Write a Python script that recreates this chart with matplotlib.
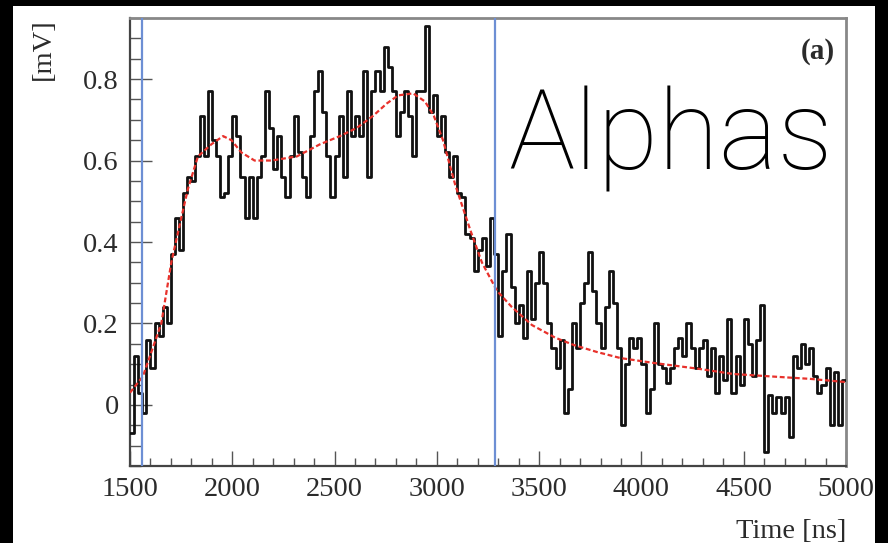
import numpy as np
import matplotlib
matplotlib.use("Agg")
import matplotlib.pyplot as plt
from matplotlib.patches import Rectangle
from matplotlib.ticker import MultipleLocator

# Sampled waveform (20 ns bins starting at 1500 ns), amplitude in mV
t_start = 1500
t_step = 20
signal_mv = [
    -0.07, 0.12, 0.03, -0.02, 0.16, 0.09, 0.20, 0.17, 0.24, 0.20,
    0.37, 0.46, 0.38, 0.52, 0.56, 0.55, 0.61, 0.71, 0.61, 0.77,
    0.65, 0.61, 0.51, 0.52, 0.61, 0.71, 0.66, 0.56, 0.46, 0.56,
    0.46, 0.56, 0.61, 0.77, 0.68, 0.58, 0.66, 0.56, 0.51, 0.61,
    0.71, 0.62, 0.56, 0.51, 0.66, 0.77, 0.82, 0.72, 0.61, 0.51,
    0.61, 0.71, 0.56, 0.77, 0.66, 0.71, 0.66, 0.82, 0.56, 0.77,
    0.82, 0.77, 0.88, 0.83, 0.77, 0.66, 0.72, 0.77, 0.71, 0.61,
    0.77, 0.77, 0.93, 0.72, 0.76, 0.66, 0.71, 0.62, 0.56, 0.61,
    0.52, 0.51, 0.42, 0.41, 0.33, 0.38, 0.41, 0.34, 0.46, 0.37,
    0.17, 0.33, 0.42, 0.29, 0.20, 0.245, 0.165, 0.33, 0.21, 0.30,
    0.375, 0.30, 0.20, 0.14, 0.09, 0.16, -0.02, 0.04, 0.20, 0.14,
    0.25, 0.30, 0.375, 0.28, 0.20, 0.14, 0.24, 0.33, 0.25, 0.14,
    -0.05, 0.10, 0.165, 0.14, 0.165, 0.10, -0.02, 0.04, 0.20, 0.10,
    0.09, 0.055, 0.09, 0.14, 0.165, 0.12, 0.20, 0.14, 0.09, 0.14,
    0.16, 0.07, 0.14, 0.03, 0.12, 0.06, 0.21, 0.03, 0.12, 0.05,
    0.21, 0.15, 0.07, 0.16, 0.245, -0.115, 0.025, -0.02, 0.02, -0.02,
    0.02, -0.08, 0.12, 0.09, 0.15, 0.10, 0.14, 0.07, 0.03, 0.05,
    0.09, -0.05, 0.08, -0.05, 0.06,
]

# Fitted pulse shape (time in ns, amplitude in mV)
fit_t = [1500, 1563, 1653, 1702, 1751, 1783, 1832, 1898, 1955, 1996,
         2044, 2109, 2191, 2315, 2429, 2526, 2608, 2689, 2755, 2811,
         2884, 2942, 2985, 3030, 3090, 3163, 3220, 3294, 3367, 3465,
         3579, 3670, 3782, 3898, 4061, 4289, 4447, 4662, 4823, 5000]
fit_mv = [0.03, 0.07, 0.20, 0.35, 0.46, 0.53, 0.61, 0.64, 0.66, 0.65,
          0.62, 0.60, 0.60, 0.61, 0.64, 0.66, 0.68, 0.71, 0.74, 0.76,
          0.765, 0.745, 0.71, 0.65, 0.54, 0.43, 0.35, 0.28, 0.24, 0.196,
          0.165, 0.147, 0.13, 0.115, 0.103, 0.088, 0.076, 0.069, 0.064, 0.056]

# Integration window edges (ns)
window_ns = [1560, 3285]

x_ticks = [1500, 2000, 2500, 3000, 3500, 4000, 4500, 5000]
y_ticks = [0, 0.2, 0.4, 0.6, 0.8]
y_tick_labels = ["0", "0.2", "0.4", "0.6", "0.8"]

W, H = 888, 543
fig = plt.figure(figsize=(W / 100, H / 100), dpi=100, facecolor="black")

# white page area behind the plot
fig.patches.append(Rectangle((13 / W, 0), (875 - 13) / W, 1 - 6 / H,
                             transform=fig.transFigure, facecolor="white",
                             edgecolor="none", zorder=-5))

ax = fig.add_axes([130 / W, 1 - 466 / H, (846 - 130) / W, (466 - 18) / H])
ax.set_zorder(2)
ax.set_facecolor("white")

serif = ["Liberation Serif", "DejaVu Serif"]
txt_col = "#2b2b2b"

t = t_start + t_step * np.arange(len(signal_mv) + 1)
v = np.append(signal_mv, signal_mv[-1])
ax.plot(t, v, drawstyle="steps-post", color="#111111", lw=2.0, zorder=3)

ax.plot(fit_t, fit_mv, color="#e8312b", lw=1.6, dashes=(2.2, 1.2), zorder=4)

for w in window_ns:
    ax.axvline(w, color="#6d8fd4", lw=1.6, zorder=5)

ax.set_xlim(1500, 5000)
ax.set_ylim(-0.15, 0.95)
ax.set_xticks(x_ticks)
ax.set_xticklabels([str(x) for x in x_ticks])
ax.set_yticks(y_ticks)
ax.set_yticklabels(y_tick_labels)
ax.xaxis.set_minor_locator(MultipleLocator(100))
ax.yaxis.set_minor_locator(MultipleLocator(0.05))

ax.tick_params(axis="both", which="both", direction="in", color="#555555",
               top=False, right=False, width=1.0)
ax.tick_params(axis="y", which="major", length=16, pad=8)
ax.tick_params(axis="y", which="minor", length=8)
ax.tick_params(axis="x", which="major", length=10.5, pad=8)
ax.tick_params(axis="x", which="minor", length=5.5)

for lab in ax.get_xticklabels() + ax.get_yticklabels():
    lab.set_family(serif)
    lab.set_fontsize(20.5)
    lab.set_color(txt_col)

for side in ["left", "bottom"]:
    ax.spines[side].set_color("#444444")
    ax.spines[side].set_linewidth(1.6)
for side in ["top", "right"]:
    ax.spines[side].set_color("#888888")
    ax.spines[side].set_linewidth(2.0)

fig.text(43 / W, 1 - 18 / H, "[mV]", rotation=90, ha="center", va="top",
         family=serif, fontsize=20.5, color=txt_col)
fig.text(846 / W, 1 - 538 / H, "Time [ns]", ha="right", va="baseline",
         family=serif, fontsize=20.5, color=txt_col)
ax.text(0.985, 0.955, "(a)", transform=ax.transAxes, ha="right", va="top",
        family=serif, fontsize=21, fontweight="bold", color=txt_col)

fig.text(508 / W, 1 - 169 / H, "Alphas", ha="left", va="baseline",
         family=["Roboto", "DejaVu Sans"], fontweight="light", fontsize=80,
         color="black", zorder=10)

fig.savefig("out.png", dpi=100, facecolor=fig.get_facecolor())
